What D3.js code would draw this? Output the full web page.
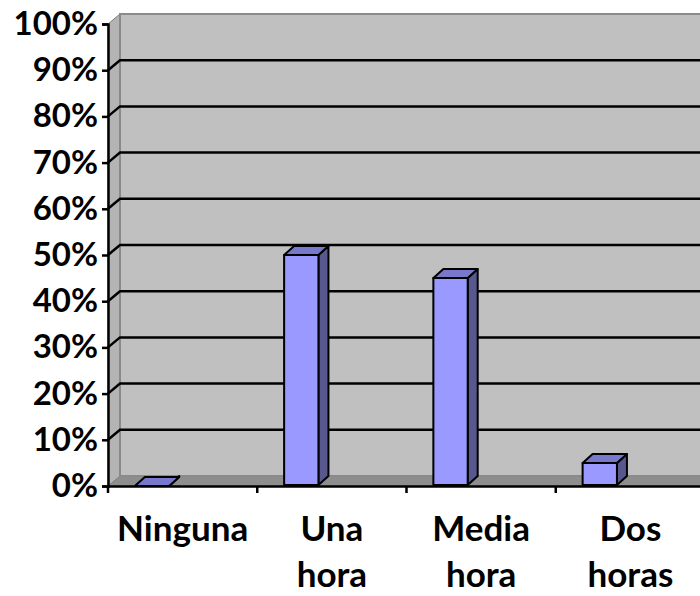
<!DOCTYPE html>
<html><head><meta charset="utf-8">
<script src="https://cdn.jsdelivr.net/npm/d3@7"></script>
<style>body{margin:0;background:#fff}svg{display:block}</style>
</head><body>
<svg id="c" width="700" height="596"></svg>
<script>
const categories = ["Ninguna", "Una hora", "Media hora", "Dos horas"];
const labelLines = [["Ninguna"], ["Una", "hora"], ["Media", "hora"], ["Dos", "horas"]];
const values = [0, 0.50, 0.45, 0.05];
const yTicks = [0, 0.1, 0.2, 0.3, 0.4, 0.5, 0.6, 0.7, 0.8, 0.9, 1.0];

const svg = d3.select("#c");
const font = "Lato, 'Open Sans', sans-serif";
const x = d3.scaleBand().domain(categories).range([108, 705]);
const y = d3.scaleLinear().domain([0, 1]).range([486, 24]);
const DX = 12, DY = -10;   // wall depth
const BDX = 10, BDY = -9;  // bar depth
const x0 = x.range()[0], x1 = 720;

// floor
svg.append("path")
  .attr("d", `M${x0},${y(0)} L${x0+DX},${y(0)+DY} L${x1},${y(0)+DY} L${x1},${y(0)} Z`)
  .attr("fill", "#8e8e8e").attr("stroke", "#808080").attr("stroke-width", 1);
// left side wall
svg.append("path")
  .attr("d", `M${x0},${y(0)} L${x0},${y(1)} L${x0+DX},${y(1)+DY} L${x0+DX},${y(0)+DY} Z`)
  .attr("fill", "#b4b4b4").attr("stroke", "#808080").attr("stroke-width", 1);
// back wall
svg.append("rect")
  .attr("x", x0 + DX).attr("y", y(1) + DY)
  .attr("width", x1 - x0 - DX).attr("height", y(0) - y(1))
  .attr("fill", "#c0c0c0").attr("stroke", "#8a8a8a").attr("stroke-width", 2);

// gridlines
const grid = svg.append("g");
yTicks.filter(t => t > 0 && t < 1).forEach(t => {
  grid.append("path")
    .attr("d", `M${x0},${y(t)} L${x0+DX},${y(t)+DY} L${x1},${y(t)+DY}`)
    .attr("fill", "none").attr("stroke", "#000").attr("stroke-width", 2.5);
});

// bars
const bw = x.bandwidth() * 0.23, boff = x.bandwidth() * 0.18;
const bars = svg.append("g");
categories.forEach((c, i) => {
  const bx = x(c) + boff, by = y(values[i]), bb = y(0) - 1;
  const g = bars.append("g").attr("stroke", "#000").attr("stroke-width", 2).attr("stroke-linejoin", "round");
  g.append("path").attr("d", `M${bx+bw},${bb} L${bx+bw+BDX},${bb+BDY} L${bx+bw+BDX},${by+BDY} L${bx+bw},${by} Z`).attr("fill", "#58588f");
  g.append("path").attr("d", `M${bx},${by} L${bx+BDX},${by+BDY} L${bx+bw+BDX},${by+BDY} L${bx+bw},${by} Z`).attr("fill", "#7878cc");
  if (values[i] > 0)
    g.append("rect").attr("x", bx).attr("y", by).attr("width", bw).attr("height", bb - by).attr("fill", "#9999ff");
});

// y axis
const ya = svg.append("g").attr("transform", `translate(${x0},0)`)
  .call(d3.axisLeft(y).tickValues(yTicks).tickFormat(d3.format(".0%")).tickSize(6).tickPadding(4));
ya.select(".domain").attr("stroke", "#000").attr("stroke-width", 2.5);
ya.selectAll(".tick line").attr("stroke", "#000").attr("stroke-width", 2.5);
ya.selectAll(".tick text").attr("font-family", font).attr("font-weight", "bold")
  .attr("font-size", 33).attr("fill", "#000");

// x axis
const xa = svg.append("g").attr("transform", `translate(0,${y(0)})`)
  .call(d3.axisBottom(x).tickSize(0).tickFormat(""));
xa.select(".domain").attr("stroke", "#000").attr("stroke-width", 2.5);
xa.selectAll(".tick").remove();
[...x.domain().map(c => x(c)), x.range()[1]].forEach(px => {
  xa.append("line").attr("x1", px).attr("x2", px).attr("y1", 0).attr("y2", 7)
    .attr("stroke", "#000").attr("stroke-width", 2.5);
});

// x labels
categories.forEach((c, i) => {
  const t = svg.append("text").attr("text-anchor", "middle")
    .attr("font-family", font).attr("font-weight", "bold").attr("font-size", 35).attr("fill", "#000");
  labelLines[i].forEach((ln, j) => {
    t.append("tspan").attr("x", x(c) + x.bandwidth() / 2).attr("y", 541 + j * 46).text(ln);
  });
});
</script>
</body></html>
